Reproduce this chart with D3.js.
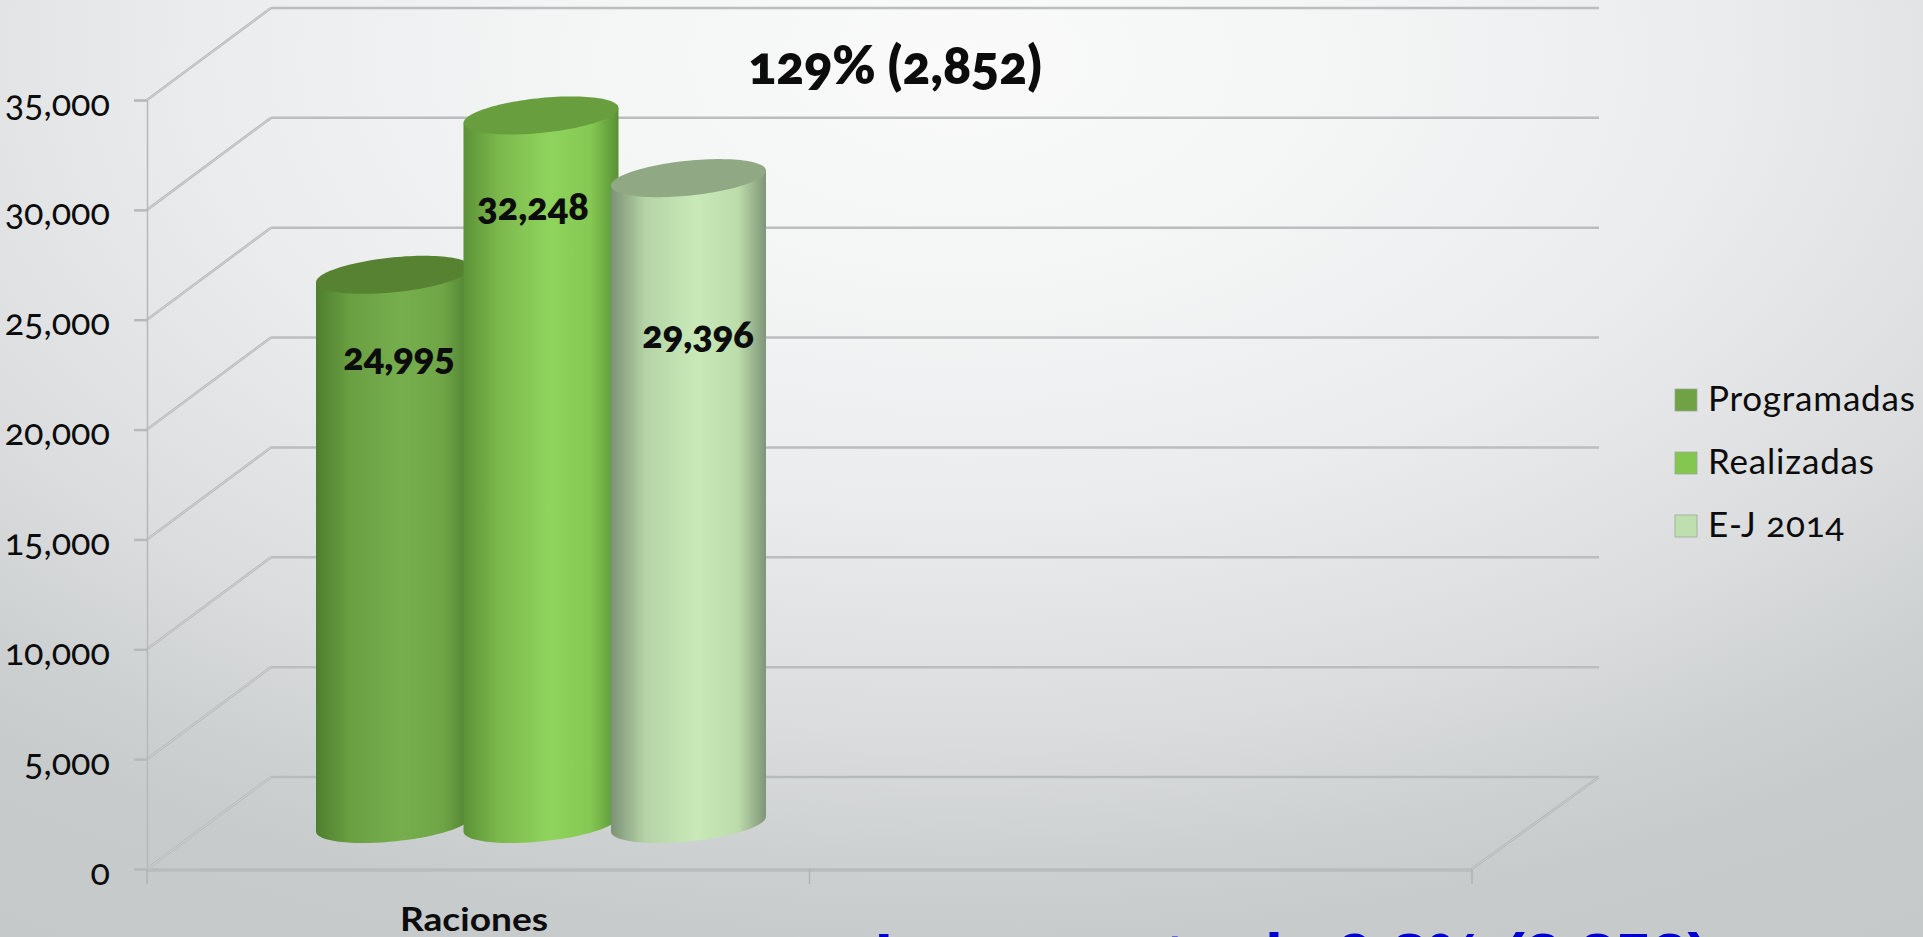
<!DOCTYPE html>
<html><head><meta charset="utf-8">
<script src="https://cdn.jsdelivr.net/npm/d3@7/dist/d3.min.js"></script>
<style>
html,body{margin:0;padding:0;width:1923px;height:937px;overflow:hidden;background:#ddd}
svg{display:block}
text{font-family:"Lato","Open Sans",sans-serif;font-variant-numeric:oldstyle-nums;font-feature-settings:"onum" 1;fill:#0c0c0c}
</style></head><body>
<svg id="c" width="1923" height="937" viewBox="0 0 1923 937"></svg>
<script>
const categories = ["Raciones", ""];
const seriesNames = ["Programadas", "Realizadas", "E-J 2014"];
const seriesValues = [24995, 32248, 29396];
const yTicks = [0, 5000, 10000, 15000, 20000, 25000, 30000, 35000];
const note = "129% (2,852)";
const footer = "Incremento de 9.8% (2,852)";
const legendFill = ["#70a144", "#84c64f", "#bfdfae"];
const bodyStops = [
  ["#4e7f2e", "#6a9f42", "#76ae4d", "#6fa546", "#4f8030"],
  ["#5c9236", "#7bb74c", "#8fd45c", "#85c853", "#5b9036"],
  ["#7c9276", "#b5d3a6", "#c9e9b8", "#bddcab", "#7f9579"]
];
const capFill = ["#568232", "#699e3f", "#90a884"];

const svg = d3.select("#c");
const W = 1923, H = 937;
const y = d3.scaleLinear().domain([0, 35000]).range([869, 100]);
const x = d3.scaleLinear().domain([0, categories.length]).range([147, 1472]);
const depth = { dx: 124, dy: -92 };
const xSeries = d3.scalePoint().domain(seriesNames).range([393.5, 688.5]);
const barDepth = { dy: -45 };
const rx = 77.5, tilt = 7.5, ry = 17.5;

const defs = svg.append("defs");
const bg = defs.append("radialGradient").attr("id", "bg").attr("gradientUnits", "userSpaceOnUse")
  .attr("cx", 0).attr("cy", 0).attr("r", 1)
  .attr("gradientTransform", "translate(960,60) scale(1900,1105)");
[[0, "#fafafa"], [0.2, "#f4f5f5"], [0.4, "#ebeced"], [0.61, "#dadcdd"], [0.72, "#ced1d2"], [0.8, "#c7cbcc"], [1, "#c4c8c9"]].forEach(s =>
  bg.append("stop").attr("offset", s[0]).attr("stop-color", s[1]));
bodyStops.forEach((st, i) => {
  const g = defs.append("linearGradient").attr("id", "body" + i);
  [0, 0.22, 0.55, 0.82, 1].forEach((o, j) => g.append("stop").attr("offset", o).attr("stop-color", st[j]));
});
svg.append("rect").attr("width", W).attr("height", H).attr("fill", "url(#bg)");

// back wall gridlines and side wall diagonals
const wall = svg.append("g");
yTicks.forEach(t => {
  wall.append("line").attr("x1", x(0) + depth.dx).attr("x2", x(2) + depth.dx + 3)
    .attr("y1", y(t) + depth.dy).attr("y2", y(t) + depth.dy)
    .attr("stroke", t === 0 ? "#b8bbbb" : "#bcbdbe").attr("stroke-width", 2.5);
  [["#b8babb", 2.6], ["#d4d6d7", 0.9]].forEach(st =>
    wall.append("line").attr("x1", x(0)).attr("x2", x(0) + depth.dx)
      .attr("y1", y(t)).attr("y2", y(t) + depth.dy)
      .attr("stroke", st[0]).attr("stroke-width", st[1]));
});
// floor
wall.append("line").attr("x1", x(0)).attr("x2", x(2)).attr("y1", y(0) + 1).attr("y2", y(0) + 1)
  .attr("stroke", "#b9bcbc").attr("stroke-width", 3.5);
[["#b4b7b7", 2.6], ["#d0d2d2", 0.9]].forEach(st =>
  wall.append("line").attr("x1", x(2)).attr("x2", x(2) + depth.dx + 3).attr("y1", y(0)).attr("y2", y(0) + depth.dy)
    .attr("stroke", st[0]).attr("stroke-width", st[1]));
d3.range(0, categories.length + 1).forEach(i =>
  wall.append("line").attr("x1", x(i)).attr("x2", x(i)).attr("y1", y(0)).attr("y2", y(0) + 15)
    .attr("stroke", "#b0b3b3").attr("stroke-width", 1.5));

// y axis
const axis = svg.append("g").attr("transform", `translate(${x(0)},0)`)
  .call(d3.axisLeft(y).tickValues(yTicks).tickFormat(d3.format(",")).tickSize(13).tickPadding(24));
axis.select(".domain").attr("stroke", "#b6b9ba").attr("stroke-width", 1.5);
axis.selectAll(".tick line").attr("stroke", "#b6b9ba").attr("stroke-width", 2.5);
axis.selectAll(".tick text").attr("dy", 15).attr("font-size", 36).style("font-family", "Lato");

// cylinders
const capPoint = (cx, cy, t) => [cx + rx * Math.cos(t), cy - tilt * Math.cos(t) + ry * Math.sin(t)];
const line = d3.line();
seriesNames.forEach((s, i) => {
  const cx = xSeries(s);
  const cyTop = y(seriesValues[i]) + barDepth.dy;
  const cyBase = y(0) + barDepth.dy;
  const lower = d3.range(0, 61).map(k => capPoint(cx, cyBase, k / 60 * Math.PI));
  const outline = [capPoint(cx, cyTop, 0)].concat(lower, [capPoint(cx, cyTop, Math.PI)]);
  svg.append("path").attr("d", line(outline) + "Z").attr("fill", `url(#body${i})`);
  const cap = d3.range(0, 120).map(k => capPoint(cx, cyTop, k / 120 * 2 * Math.PI));
  svg.append("path").attr("d", line(cap) + "Z").attr("fill", capFill[i]);
});
// value labels
const labelOffset = [50, 60, 125];
const labelX = [399, 533, 698];
seriesNames.forEach((s, i) => {
  svg.append("text").attr("x", labelX[i]).attr("y", y(seriesValues[i]) + labelOffset[i])
    .attr("text-anchor", "middle").attr("font-size", 38).attr("font-weight", 800)
    .text(d3.format(",")(seriesValues[i]));
});

svg.append("text").attr("x", 895).attr("y", 84).attr("text-anchor", "middle")
  .attr("font-size", 52).attr("font-weight", 800).text(note);
svg.append("text").attr("x", 474).attr("y", 931).attr("text-anchor", "middle")
  .attr("font-size", 33).attr("font-weight", 700)
  .attr("textLength", 148).attr("lengthAdjust", "spacingAndGlyphs").text(categories[0]);
svg.append("text").attr("x", 1292).attr("y", 979).attr("text-anchor", "middle")
  .attr("font-size", 65).attr("font-weight", 700)
  .style("font-family", "Liberation Sans").style("fill", "#0000cc").text(footer);

// legend
const legY = d3.scalePoint().domain(seriesNames).range([411, 537]);
seriesNames.forEach((s, i) => {
  svg.append("rect").attr("x", 1675).attr("y", legY(s) - 22).attr("width", 22).attr("height", 22)
    .attr("fill", legendFill[i]).attr("stroke", "#9aa89a").attr("stroke-width", 0.8);
  svg.append("text").attr("x", 1708).attr("y", legY(s)).attr("font-size", 35)
    .attr("letter-spacing", 0.8).text(s);
});
</script>
</body></html>
